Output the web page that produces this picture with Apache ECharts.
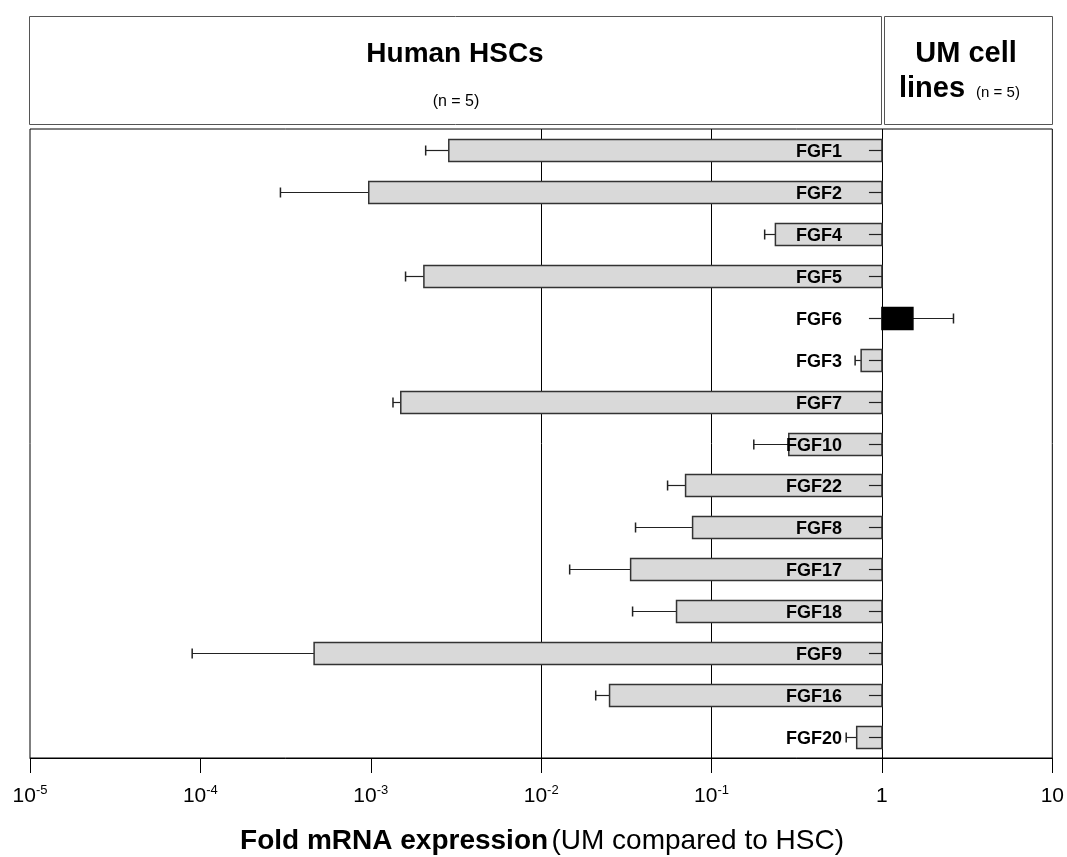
<!DOCTYPE html>
<html>
<head>
<meta charset="utf-8">
<script src="https://cdn.jsdelivr.net/npm/echarts@6/dist/echarts.min.js"></script>
<style>
  html, body { margin: 0; padding: 0; background: #fff; }
  #chart { width: 1067px; height: 857px; }
</style>
</head>
<body>
<div id="chart"></div>
<script>
// ---- data ----
const categories = ['FGF1','FGF2','FGF4','FGF5','FGF6','FGF3','FGF7','FGF10','FGF22','FGF8','FGF17','FGF18','FGF9','FGF16','FGF20'];
const foldValues = [0.00287, 0.000973, 0.237, 0.00205, 1.52, 0.755, 0.00150, 0.284, 0.0704, 0.0774, 0.0335, 0.0623, 0.000465, 0.0252, 0.711];
const errorEnds  = [0.00210, 0.000295, 0.205, 0.00160, 2.63, 0.696, 0.00135, 0.177, 0.0552, 0.0358, 0.0147, 0.0344, 0.0000895, 0.0209, 0.617];
const gridLineValues = [0.01, 0.1, 1];
const axisMin = 1e-5, axisMax = 10;
const xTitleBold = 'Fold mRNA expression';
const xTitleRegular = '(UM compared to HSC)';
const headerLeft = 'Human HSCs', headerLeftSub = '(n = 5)';
const headerRight1 = 'UM cell', headerRight2 = 'lines', headerRightSub = '(n = 5)';

const FONT = '"Liberation Sans", Arial, sans-serif';
const chart = echarts.init(document.getElementById('chart'), null, { renderer: 'canvas' });

const seriesData = categories.map((c, i) => [foldValues[i], i, errorEnds[i]]);

function renderItem(params, api) {
  const i = api.value(1);
  const v = api.value(0);
  const e = api.value(2);
  const pBase = api.coord([1, i]);
  const pVal = api.coord([v, i]);
  const pErr = api.coord([e, i]);
  const h = 22;
  const cy = Math.round(pBase[1]) + 0.5;
  const x0 = Math.min(pBase[0], pVal[0]);
  const w = Math.abs(pVal[0] - pBase[0]);
  const up = v > 1;
  const children = [];
  children.push({ type: 'line', shape: { x1: pVal[0], y1: cy, x2: pErr[0], y2: cy },
    style: { stroke: '#222', lineWidth: 1.2 } });
  children.push({ type: 'line', shape: { x1: pErr[0], y1: cy - 5, x2: pErr[0], y2: cy + 5 },
    style: { stroke: '#222', lineWidth: 1.5 } });
  children.push({ type: 'rect', shape: { x: x0, y: cy - h / 2, width: w, height: h },
    style: { fill: up ? '#000' : '#d9d9d9', stroke: up ? '#000' : '#333', lineWidth: 1.5 } });
  children.push({ type: 'line', shape: { x1: pBase[0] - 13, y1: cy, x2: pBase[0], y2: cy },
    style: { stroke: '#222', lineWidth: 1.2 } });
  children.push({ type: 'text', style: { text: categories[i], x: pBase[0] - 40, y: cy + 2,
    align: 'right', verticalAlign: 'middle', fontSize: 18, fontWeight: 'bold', fontFamily: FONT, fill: '#000' } });
  return { type: 'group', children };
}

const option = {
  animation: false,
  backgroundColor: '#fff',
  grid: { left: 30, right: 14, top: 129, bottom: 99, show: true, borderColor: '#000', borderWidth: 1, backgroundColor: 'transparent' },
  xAxis: {
    type: 'log', logBase: 10, min: axisMin, max: axisMax,
    axisLine: { show: true, lineStyle: { color: '#000', width: 1 } },
    axisTick: { show: true, length: 15, inside: false, lineStyle: { color: '#000', width: 1 } },
    splitLine: { show: false },
    axisLabel: {
      margin: 26,
      formatter: function (val) {
        const ex = Math.round(Math.log10(val));
        if (ex === 0) return '{b|1}';
        if (ex === 1) return '{b|10}';
        return '{b|10}{sup|' + ex + '}';
      },
      rich: {
        b: { fontSize: 21, lineHeight: 24, fontFamily: FONT, color: '#000' },
        sup: { fontSize: 13, lineHeight: 13, verticalAlign: 'top', fontFamily: FONT, color: '#000' }
      }
    }
  },
  yAxis: { type: 'category', data: categories, inverse: true, show: false },
  series: [
    {
      type: 'line', data: [], z: 1, silent: true,
      markLine: { silent: true, z: 1, symbol: 'none', label: { show: false },
        lineStyle: { color: '#000', width: 1, type: 'solid' },
        data: gridLineValues.map(v => ({ xAxis: v })) }
    },
    {
      type: 'custom', z: 5, renderItem: renderItem, data: seriesData,
      encode: { x: [0, 2], y: 1 }
    }
  ],
  graphic: [
    { type: 'rect', shape: { x: 29.5, y: 16.5, width: 852, height: 108 }, style: { fill: '#fff', stroke: '#555', lineWidth: 1 } },
    { type: 'rect', shape: { x: 884.5, y: 16.5, width: 168, height: 108 }, style: { fill: '#fff', stroke: '#555', lineWidth: 1 } },
    { type: 'text', style: { text: headerLeft, x: 455, y: 54, align: 'center', verticalAlign: 'middle',
      fontSize: 28, fontWeight: 'bold', fontFamily: FONT, fill: '#000' } },
    { type: 'text', style: { text: headerLeftSub, x: 456, y: 102, align: 'center', verticalAlign: 'middle',
      fontSize: 16, fontFamily: FONT, fill: '#000' } },
    { type: 'text', style: { text: headerRight1, x: 966, y: 54, align: 'center', verticalAlign: 'middle',
      fontSize: 29, fontWeight: 'bold', fontFamily: FONT, fill: '#000' } },
    { type: 'text', style: { text: headerRight2, x: 932, y: 89, align: 'center', verticalAlign: 'middle',
      fontSize: 29, fontWeight: 'bold', fontFamily: FONT, fill: '#000' } },
    { type: 'text', style: { text: headerRightSub, x: 998, y: 93, align: 'center', verticalAlign: 'middle',
      fontSize: 15, fontFamily: FONT, fill: '#000' } },
    { type: 'text', style: { text: '{b|' + xTitleBold + '} {r|' + xTitleRegular + '}', x: 542, y: 841, align: 'center', verticalAlign: 'middle',
      rich: { b: { fontSize: 28, fontWeight: 'bold', fontFamily: FONT, fill: '#000' },
              r: { fontSize: 28, fontFamily: FONT, fill: '#000' } } } }
  ]
};
chart.setOption(option);
</script>
</body>
</html>
